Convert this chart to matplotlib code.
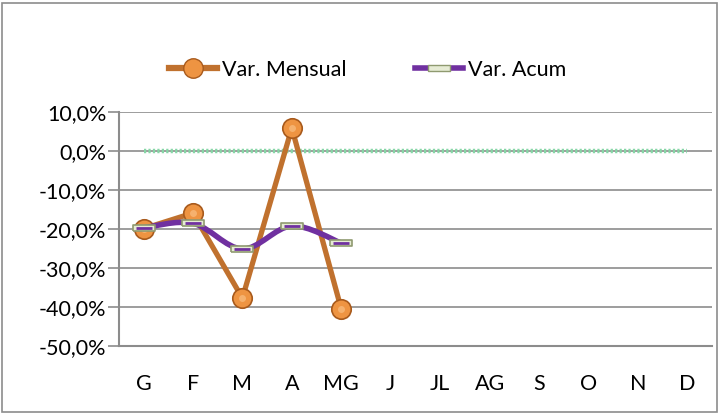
import matplotlib
matplotlib.use("Agg")
import matplotlib.pyplot as plt
import numpy as np
from matplotlib.path import Path
from matplotlib.patches import PathPatch, Rectangle
from matplotlib.lines import Line2D

plt.rcParams['font.family'] = ['Lato', 'DejaVu Sans']

meses = ['G', 'F', 'M', 'A', 'MG', 'J', 'JL', 'AG', 'S', 'O', 'N', 'D']
var_mensual = [-19.9, -15.9, -37.7, 5.9, -40.5]
var_acum = [-19.7, -18.5, -25.1, -19.2, -23.6]
cero = [0.0] * 12
yticks = [10, 0, -10, -20, -30, -40, -50]

naranja_linea = '#C0712E'
naranja = '#EE9442'
morado = '#7030A0'
fs = 15.5

fig = plt.figure(figsize=(7.2, 4.18), dpi=100)
fig.patches.append(Rectangle((0.003, 0.015), 0.993, 0.978, transform=fig.transFigure,
                             fill=False, edgecolor='#8c8c8c', linewidth=1.2))
ax = fig.add_axes([0.165, 0.172, 0.824, 0.56])

x = np.arange(len(meses))
ax.set_xlim(-0.5, len(meses) - 0.5)
ax.set_ylim(-50, 10)
ax.set_yticks(yticks)
ax.set_yticklabels([f'{v:.1f}%'.replace('.', ',') for v in yticks], fontsize=fs)
ax.set_xticks(x)
ax.set_xticklabels(meses, fontsize=fs)
ax.tick_params(axis='x', length=0, pad=20)
ax.tick_params(axis='y', length=8, width=1.2, color='#8c8c8c', pad=1)
for s in ['top', 'right']:
    ax.spines[s].set_visible(False)
for s in ['left', 'bottom']:
    ax.spines[s].set_color('#8c8c8c')
    ax.spines[s].set_linewidth(1.5)
ax.grid(axis='y', color='#8c8c8c', linewidth=1.2)
ax.set_axisbelow(True)

# serie en cero (verde punteada)
ax.plot(x, cero, color='#86d6a6', linewidth=3.2, linestyle=(0, (0.5, 0.5)), zorder=2)

# Var. Mensual
ax.plot(x[:len(var_mensual)], var_mensual, color=naranja_linea, linewidth=3.8, zorder=3)
ax.plot(x[:len(var_mensual)], var_mensual, linestyle='none', marker='o', markersize=14,
        markerfacecolor=naranja, markeredgecolor='#a85a1c', markeredgewidth=1.2, zorder=4)
ax.plot(x[:len(var_mensual)], var_mensual, linestyle='none', marker='o', markersize=5,
        markerfacecolor='#f8b97a', markeredgewidth=0, zorder=4, alpha=0.8)

# Var. Acum suavizada (Catmull-Rom -> Bezier)
xa = x[:len(var_acum)].astype(float)
ya = np.array(var_acum)
verts = [(xa[0], ya[0])]
codes = [Path.MOVETO]
for i in range(len(xa) - 1):
    p0 = np.array([xa[max(i - 1, 0)], ya[max(i - 1, 0)]])
    p1 = np.array([xa[i], ya[i]])
    p2 = np.array([xa[i + 1], ya[i + 1]])
    p3 = np.array([xa[min(i + 2, len(xa) - 1)], ya[min(i + 2, len(xa) - 1)]])
    c1 = p1 + (p2 - p0) / 6
    c2 = p2 - (p3 - p1) / 6
    verts += [tuple(c1), tuple(c2), tuple(p2)]
    codes += [Path.CURVE4] * 3
ax.add_patch(PathPatch(Path(verts, codes), facecolor='none', edgecolor=morado,
                       linewidth=4, zorder=5, capstyle='round'))
rect = [(-1.6, -0.5), (1.6, -0.5), (1.6, 0.5), (-1.6, 0.5), (-1.6, -0.5)]
ax.plot(xa, ya, linestyle='none', marker=rect, markersize=16,
        markerfacecolor='#e6ebd4', markeredgecolor='#8f9a70', markeredgewidth=1.2, zorder=6)
ax.plot(xa, ya, linestyle='none', marker='_', markersize=11,
        markeredgecolor=morado, markeredgewidth=2, zorder=7)

h1 = Line2D([], [], color=naranja_linea, linewidth=4.5, marker='o', markersize=14,
            markerfacecolor=naranja, markeredgecolor='#a85a1c')
h2 = Line2D([], [], color=morado, linewidth=4, marker=rect, markersize=16,
            markerfacecolor='#e6ebd4', markeredgecolor='#8f9a70')
fig.legend([h1, h2], ['Var. Mensual', 'Var. Acum'], loc='center', ncol=2,
           bbox_to_anchor=(0.511, 0.833), frameon=False, fontsize=fs,
           handlelength=2.2, columnspacing=3.2, handletextpad=0.25)

fig.savefig('out.png', dpi=100)
